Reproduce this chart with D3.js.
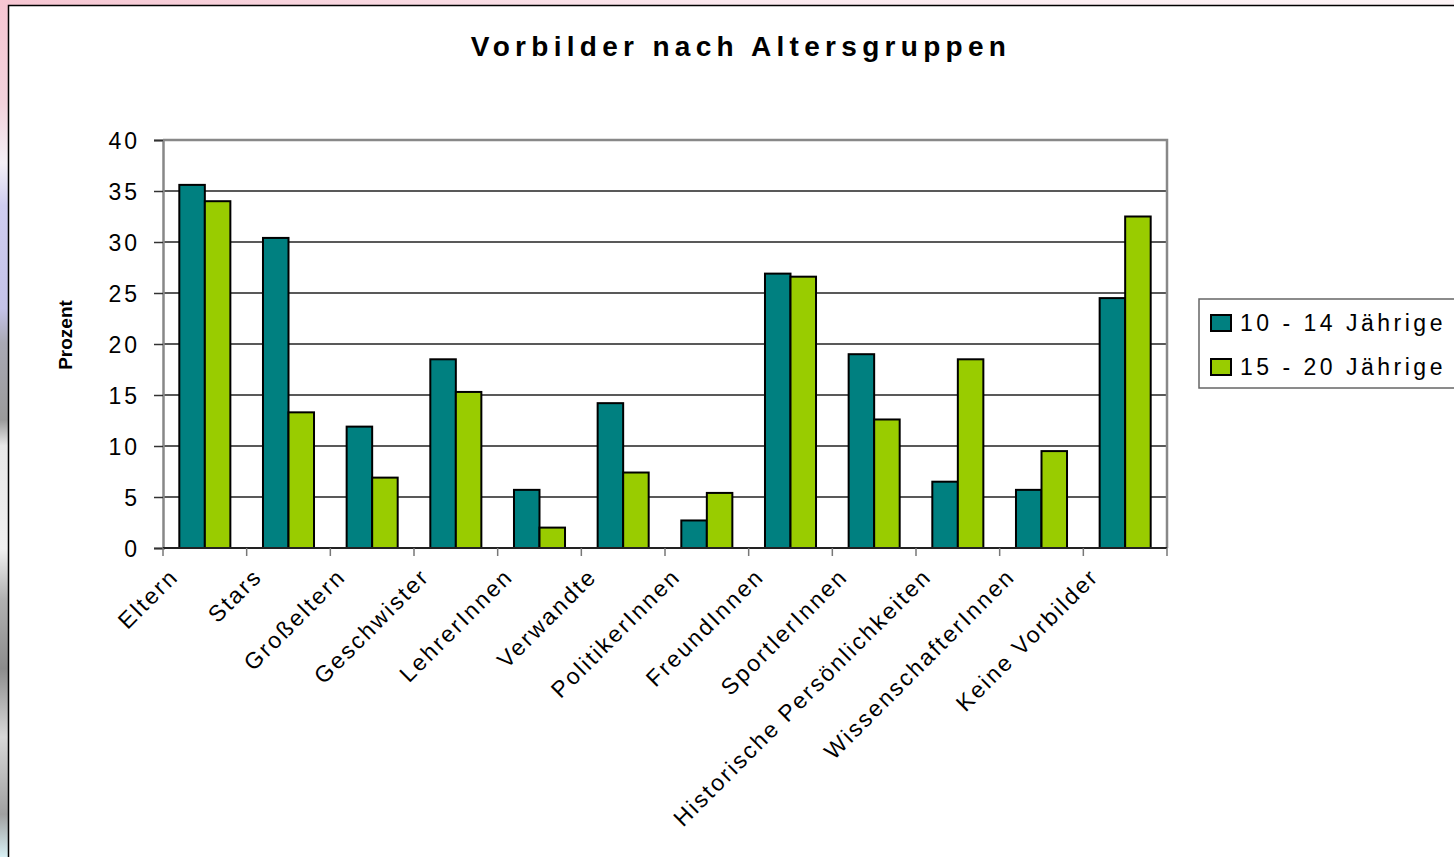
<!DOCTYPE html>
<meta charset="utf-8">
<head>
  <script src="https://d3js.org/d3.v7.min.js"></script>
</head>
<style>
  body { margin: 0; background: #fff; }
  text { font-family: Arial, "Liberation Sans", sans-serif; fill: #000; }
  .grid line { stroke: #222; stroke-width: 1.5; }
</style>
<body>
<script>
  // Kategorien und Werte (Prozent)
  var categories = ["Eltern", "Stars", "Großeltern", "Geschwister", "LehrerInnen", "Verwandte",
    "PolitikerInnen", "FreundInnen", "SportlerInnen", "Historische Persönlichkeiten",
    "WissenschafterInnen", "Keine Vorbilder"];
  var seriesNames = ["10 - 14 Jährige", "15 - 20 Jährige"];
  var young = [35.6, 30.4, 11.9, 18.5, 5.7, 14.2, 2.7, 26.9, 19.0, 6.5, 5.7, 24.5];
  var older = [34.0, 13.3, 6.9, 15.3, 2.0, 7.4, 5.4, 26.6, 12.6, 18.5, 9.5, 32.5];
  var yTicks = [0, 5, 10, 15, 20, 25, 30, 35, 40];
  var colors = ["#008080", "#99cc00"];

  var W = 1454, H = 857;
  var svg = d3.select("body").append("svg")
    .attr("width", W)
    .attr("height", H);

  // Hintergrund links / oben (Folienbild)
  var defs = svg.append("defs");
  var lg = defs.append("linearGradient").attr("id", "leftbg")
    .attr("x1", 0).attr("y1", 0).attr("x2", 0).attr("y2", 1);
  [[0, "#f6c6d2"], [0.12, "#f3d2dc"], [0.19, "#f4f0f6"], [0.24, "#cfcdf0"], [0.36, "#c4c2e8"],
   [0.40, "#a9a9b4"], [0.49, "#9a9a9a"], [0.52, "#e8e8e8"], [0.64, "#f0f0f0"], [0.70, "#b0b0b0"],
   [0.78, "#8c8c8c"], [0.86, "#d8d8d8"], [0.95, "#a0a0a0"], [1, "#d8f0f4"]]
    .forEach(function (s) { lg.append("stop").attr("offset", s[0]).attr("stop-color", s[1]); });
  var tg = defs.append("linearGradient").attr("id", "topbg")
    .attr("x1", 0).attr("y1", 0).attr("x2", 1).attr("y2", 0);
  [[0, "#f6c6d2"], [0.5, "#fbe8ee"], [1, "#fdf4f6"]]
    .forEach(function (s) { tg.append("stop").attr("offset", s[0]).attr("stop-color", s[1]); });

  svg.append("rect").attr("x", 0).attr("y", 0).attr("width", W).attr("height", 5).attr("fill", "url(#topbg)");
  svg.append("rect").attr("x", 0).attr("y", 0).attr("width", 8).attr("height", H).attr("fill", "url(#leftbg)");
  svg.append("path")
    .attr("d", "M8.5," + H + "V5.5H" + W)
    .attr("fill", "none").attr("stroke", "#000").attr("stroke-width", 1.5);

  // Skalen
  var plotL = 163, plotR = 1167, plotT = 140, plotB = 548;
  var x0 = d3.scaleBand().domain(categories).range([plotL, plotR])
    .paddingInner(0.39).paddingOuter(0.195);
  var x1 = d3.scaleBand().domain([0, 1]).range([0, x0.bandwidth()]);
  var y = d3.scaleLinear().domain([0, 40]).range([plotB, plotT]);

  // Gitterlinien
  svg.append("g").attr("class", "grid")
    .selectAll("line").data(yTicks.filter(function (d) { return d > 0 && d < 40; }))
    .enter().append("line")
    .attr("x1", plotL).attr("x2", plotR)
    .attr("y1", function (d) { return y(d); }).attr("y2", function (d) { return y(d); });

  // Rahmen der Zeichenfläche (oben / rechts grau)
  svg.append("path")
    .attr("d", "M" + plotL + "," + y(40) + "H" + plotR + "V" + plotB)
    .attr("fill", "none").attr("stroke", "#888").attr("stroke-width", 2.5);

  // Balken
  var groups = svg.append("g").selectAll("g").data(categories).enter().append("g")
    .attr("transform", function (d) { return "translate(" + x0(d) + ",0)"; });
  groups.selectAll("rect")
    .data(function (d, i) { return [young[i], older[i]]; })
    .enter().append("rect")
    .attr("x", function (d, j) { return x1(j); })
    .attr("y", function (d) { return y(d); })
    .attr("width", x1.bandwidth())
    .attr("height", function (d) { return plotB - y(d); })
    .attr("fill", function (d, j) { return colors[j]; })
    .attr("stroke", "#000").attr("stroke-width", 2);

  // Y-Achse
  var yAxis = svg.append("g").attr("transform", "translate(" + plotL + ",0)")
    .call(d3.axisLeft(y).tickValues(yTicks).tickSize(9).tickPadding(14));
  yAxis.select(".domain").attr("stroke", "#888").attr("stroke-width", 2.5);
  yAxis.selectAll(".tick line").attr("stroke", "#333").attr("stroke-width", 1.5);
  yAxis.selectAll(".tick text")
    .style("font-size", "23px").style("letter-spacing", "3px")
    .style("font-family", "Arial, 'Liberation Sans', sans-serif")
    .attr("fill", "#000")
    .attr("dy", "0.36em");

  // X-Achse mit Teilstrichen an den Kategoriegrenzen
  var step = x0.step();
  var bounds = categories.map(function (c) { return x0(c) - step * x0.paddingInner() / 2; });
  bounds.push(plotR);
  svg.append("line").attr("x1", plotL).attr("x2", plotR)
    .attr("y1", plotB).attr("y2", plotB)
    .attr("stroke", "#222").attr("stroke-width", 2);
  svg.append("g").selectAll("line").data(bounds).enter().append("line")
    .attr("x1", function (d) { return d; }).attr("x2", function (d) { return d; })
    .attr("y1", plotB).attr("y2", plotB + 8)
    .attr("stroke", "#777").attr("stroke-width", 1.5);

  svg.append("g").selectAll("text").data(categories).enter().append("text")
    .attr("transform", function (d) {
      return "translate(" + (x0(d) + x0.bandwidth() / 2 - 25) + ",578) rotate(-45)";
    })
    .attr("text-anchor", "end")
    .style("font-size", "23px").style("letter-spacing", "2.3px")
    .text(function (d) { return d; });

  // Titel
  svg.append("text")
    .attr("x", 741).attr("y", 56)
    .attr("text-anchor", "middle")
    .style("font-size", "28px").style("font-weight", "bold").style("letter-spacing", "5.3px")
    .text("Vorbilder nach Altersgruppen");

  // Achsentitel
  svg.append("text")
    .attr("transform", "translate(72,335) rotate(-90)")
    .attr("text-anchor", "middle")
    .style("font-size", "19px").style("font-weight", "bold")
    .text("Prozent");

  // Legende
  var legend = svg.append("g");
  legend.append("rect")
    .attr("x", 1199).attr("y", 299).attr("width", 270).attr("height", 89)
    .attr("fill", "#fff").attr("stroke", "#666").attr("stroke-width", 1.5);
  var items = legend.selectAll("g.item").data(seriesNames).enter().append("g")
    .attr("class", "item")
    .attr("transform", function (d, i) { return "translate(1211," + (323 + i * 44) + ")"; });
  items.append("rect")
    .attr("x", 0).attr("y", -8).attr("width", 20).attr("height", 16)
    .attr("fill", function (d, i) { return colors[i]; })
    .attr("stroke", "#000").attr("stroke-width", 2);
  items.append("text")
    .attr("x", 29).attr("y", 0).attr("dy", "0.36em")
    .style("font-size", "23px").style("letter-spacing", "3.5px")
    .text(function (d) { return d; });
</script>
</body>
